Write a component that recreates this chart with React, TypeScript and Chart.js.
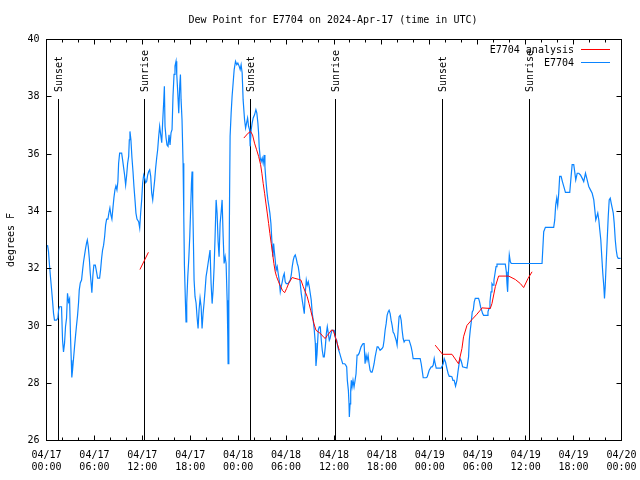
import React, { useEffect, useRef } from "react";
import { Chart, registerables } from "chart.js";

Chart.register(...registerables);

const FONT_FAMILY = "'DejaVu Sans Mono', 'Liberation Mono', monospace";
const TITLE = "Dew Point for E7704 on 2024-Apr-17 (time in UTC)";
const Y_LABEL = "degrees F";
const SERIES_NAMES = ["E7704 analysis", "E7704"];
const SERIES_COLORS = ["#ff0000", "#0a84ff"];

const X_TICK_HOURS = [0, 6, 12, 18, 24, 30, 36, 42, 48, 54, 60, 66, 72];
const X_TICK_LABELS = [
  ["04/17", "00:00"], ["04/17", "06:00"], ["04/17", "12:00"], ["04/17", "18:00"],
  ["04/18", "00:00"], ["04/18", "06:00"], ["04/18", "12:00"], ["04/18", "18:00"],
  ["04/19", "00:00"], ["04/19", "06:00"], ["04/19", "12:00"], ["04/19", "18:00"],
  ["04/20", "00:00"],
];
const Y_TICKS = [26, 28, 30, 32, 34, 36, 38, 40];
const Y_TICK_LABELS = ["26", "28", "30", "32", "34", "36", "38", "40"];

const SUN_LABELS = ["Sunset", "Sunrise", "Sunset", "Sunrise", "Sunset", "Sunrise"];
const SUN_HOURS = [1.54, 12.33, 25.5, 36.25, 49.64, 60.42];
const SUN_LINE_TOP = 37.93;

const BLUE_HOURS = [
  0.13, 0.25, 0.38, 0.5, 0.63, 0.75, 0.88, 1.0, 1.25, 1.42,
  1.51, 1.63, 1.88, 2.01, 2.13, 2.26, 2.38, 2.51, 2.63, 2.76,
  2.89, 3.01, 3.1, 3.17, 3.26, 3.39, 3.51, 3.64, 3.76, 3.89,
  4.01, 4.1, 4.23, 4.39, 4.52, 4.64, 4.77, 4.89, 5.02, 5.11,
  5.23, 5.36, 5.48, 5.61, 5.68, 5.81, 5.93, 6.11, 6.23, 6.4,
  6.65, 6.77, 6.9, 7.02, 7.15, 7.28, 7.4, 7.53, 7.69, 7.81,
  7.94, 8.07, 8.19, 8.32, 8.44, 8.57, 8.69, 8.82, 8.94, 9.03,
  9.16, 9.41, 9.53, 9.66, 9.78, 9.91, 10.04, 10.16, 10.29, 10.37,
  10.45, 10.57, 10.7, 10.83, 10.95, 11.08, 11.2, 11.33, 11.54, 11.67,
  11.79, 11.92, 12.04, 12.17, 12.29, 12.42, 12.54, 12.67, 12.79, 12.92,
  13.05, 13.17, 13.3, 13.42, 13.55, 13.67, 13.8, 13.92, 14.05, 14.17,
  14.3, 14.43, 14.55, 14.68, 14.76, 14.84, 14.97, 15.09, 15.22, 15.34,
  15.47, 15.59, 15.72, 15.84, 15.97, 16.09, 16.22, 16.31, 16.43, 16.56,
  16.68, 16.77, 16.85, 16.97, 17.1, 17.19, 17.27, 17.4, 17.47, 17.56,
  17.69, 17.81, 17.94, 18.06, 18.15, 18.23, 18.31, 18.4, 18.48, 18.6,
  18.73, 18.85, 18.98, 19.1, 19.23, 19.36, 19.48, 19.61, 19.73, 19.86,
  19.98, 20.11, 20.23, 20.36, 20.48, 20.61, 20.74, 20.86, 20.99, 21.11,
  21.24, 21.36, 21.49, 21.61, 21.74, 21.86, 21.99, 22.12, 22.24, 22.37,
  22.49, 22.62, 22.7, 22.74, 22.83, 22.92, 22.99, 23.12, 23.24, 23.37,
  23.5, 23.67, 23.83, 23.96, 24.12, 24.25, 24.37, 24.5, 24.62, 24.8,
  24.93, 25.05, 25.18, 25.3, 25.43, 25.5, 25.63, 25.75, 25.88, 26.05,
  26.22, 26.34, 26.47, 26.56, 26.63, 26.76, 26.88, 27.01, 27.13, 27.26,
  27.35, 27.47, 27.6, 27.72, 27.85, 27.97, 28.1, 28.19, 28.26, 28.35,
  28.44, 28.51, 28.64, 28.76, 28.89, 29.01, 29.14, 29.27, 29.39, 29.52,
  29.64, 29.77, 29.89, 30.02, 30.27, 30.39, 30.52, 30.65, 30.77, 30.9,
  31.02, 31.15, 31.27, 31.4, 31.52, 31.65, 31.77, 31.9, 32.02, 32.15,
  32.28, 32.4, 32.53, 32.65, 32.78, 32.9, 33.03, 33.15, 33.28, 33.4,
  33.53, 33.66, 33.74, 33.87, 34.03, 34.16, 34.28, 34.41, 34.53, 34.66,
  34.78, 34.91, 35.04, 35.16, 35.29, 35.41, 35.5, 35.63, 35.75, 36.0,
  36.09, 36.21, 36.34, 36.47, 36.59, 36.72, 36.84, 36.97, 37.09, 37.34,
  37.47, 37.59, 37.67, 37.8, 37.88, 37.92, 38.01, 38.09, 38.17, 38.26,
  38.38, 38.51, 38.64, 38.76, 38.89, 39.01, 39.14, 39.26, 39.39, 39.51,
  39.64, 39.77, 39.89, 40.02, 40.14, 40.27, 40.39, 40.52, 40.64, 40.77,
  40.89, 41.02, 41.15, 41.27, 41.4, 41.52, 41.65, 41.77, 42.02, 42.15,
  42.27, 42.4, 42.53, 42.65, 42.78, 42.9, 43.03, 43.15, 43.28, 43.4,
  43.53, 43.65, 43.78, 43.9, 44.03, 44.15, 44.28, 44.41, 44.53, 44.66,
  44.78, 44.91, 45.41, 45.54, 45.66, 45.79, 45.91, 46.79, 46.92, 47.04,
  47.17, 47.54, 47.67, 47.79, 47.92, 48.04, 48.17, 48.29, 48.42, 48.55,
  48.67, 48.8, 49.42, 49.55, 49.67, 49.8, 49.96, 50.14, 50.3, 50.43,
  50.64, 50.77, 50.89, 51.05, 51.22, 51.39, 51.52, 51.64, 51.77, 51.9,
  52.02, 52.1, 52.65, 52.85, 52.94, 53.06, 53.19, 53.31, 53.44, 53.56,
  53.69, 54.1, 54.23, 54.35, 54.48, 54.61, 54.73, 55.16, 55.28, 55.41,
  55.53, 55.66, 55.78, 55.91, 56.03, 56.16, 56.29, 56.41, 57.45, 57.58,
  57.66, 57.74, 57.83, 57.95, 58.08, 58.2, 62.05, 62.26, 62.47, 63.51,
  63.64, 63.76, 63.89, 64.01, 64.14, 64.26, 64.44, 64.6, 64.77, 64.98,
  65.52, 65.69, 65.82, 66.02, 66.14, 66.27, 66.45, 66.65, 66.86, 67.07,
  67.27, 67.49, 67.7, 67.9, 68.11, 68.33, 68.53, 68.66, 68.78, 68.91,
  69.03, 69.16, 69.28, 69.41, 69.53, 69.66, 69.79, 69.87, 69.96, 70.08,
  70.21, 70.34, 70.46, 70.59, 70.71, 70.84, 70.97, 71.09, 71.22, 71.34,
  71.47, 71.59, 71.88,
];

const BLUE_VALUES = [
  32.82, 32.6, 32.1, 31.7, 31.3, 30.9, 30.44, 30.2, 30.2, 30.27,
  30.55, 30.67, 30.67, 29.5, 29.09, 29.4, 29.97, 30.27, 31.14, 30.84,
  30.95, 29.6, 28.8, 28.2, 28.45, 28.87, 29.27, 29.67, 30.02, 30.37,
  30.8, 31.25, 31.5, 31.6, 31.95, 32.24, 32.48, 32.7, 32.9, 33.0,
  32.77, 32.36, 31.84, 31.42, 31.16, 31.77, 32.12, 32.12, 31.95, 31.67,
  31.67, 31.95, 32.36, 32.65, 32.82, 33.12, 33.52, 33.73, 33.73, 33.94,
  34.12, 33.87, 33.73, 34.12, 34.47, 34.75, 34.89, 34.75, 35.04, 35.68,
  36.03, 36.03, 35.8, 35.52, 35.27, 34.92, 35.27, 35.68, 35.92, 36.5,
  36.79, 36.5, 35.87, 35.39, 34.87, 34.4, 33.94, 33.73, 33.64, 33.42,
  33.94, 34.4, 35.0, 35.27, 35.16, 35.0, 35.04, 35.27, 35.39, 35.45,
  35.22, 34.64, 34.4, 34.75, 35.1, 35.52, 35.87, 36.15, 36.62, 36.97,
  36.67, 36.4, 37.14, 37.84, 38.37, 36.97, 36.57, 36.32, 36.27, 36.67,
  36.32, 36.74, 36.85, 38.02, 38.78, 39.07, 39.24, 38.78, 38.19, 37.43,
  38.37, 38.78, 37.9, 37.2, 35.68, 33.82, 32.12, 30.78, 30.14, 30.8,
  31.72, 32.3, 33.12, 34.17, 34.98, 35.39, 34.29, 32.88, 31.6, 31.02,
  30.8, 30.32, 29.91, 30.55, 30.97, 30.67, 29.91, 30.44, 30.8, 31.25,
  31.72, 31.95, 32.18, 32.42, 32.65, 31.48, 30.78, 31.25, 32.07, 33.12,
  34.4, 33.94, 32.94, 32.42, 33.58, 33.94, 34.4, 33.12, 32.18, 32.42,
  32.18, 30.9, 29.62, 28.68, 30.78, 34.4, 36.62, 37.43, 38.02, 38.48,
  38.95, 39.24, 39.12, 39.18, 39.07, 38.95, 39.12, 38.83, 37.9, 37.2,
  36.91, 37.08, 37.26, 36.97, 36.85, 36.27, 36.85, 37.08, 37.26, 37.37,
  37.55, 37.43, 37.08, 36.73, 36.27, 35.86, 35.74, 35.86, 35.68, 35.97,
  35.56, 35.1, 34.69, 34.4, 34.17, 33.94, 33.58, 33.12, 32.77, 32.42,
  32.88, 32.65, 32.3, 31.95, 32.07, 31.83, 31.6, 31.19, 31.37, 31.54,
  31.72, 31.83, 31.54, 31.48, 31.48, 31.54, 31.6, 31.78, 32.07, 32.3,
  32.42, 32.48, 32.36, 32.18, 32.07, 31.83, 31.48, 31.13, 30.9, 30.67,
  30.43, 31.13, 31.6, 31.42, 31.54, 31.37, 31.13, 30.9, 30.43, 30.2,
  29.85, 29.4, 28.6, 29.0, 29.85, 29.97, 29.97, 29.5, 29.15, 28.92,
  28.92, 29.27, 29.73, 29.97, 29.73, 29.5, 29.56, 29.73, 29.85, 29.85,
  29.67, 29.56, 29.5, 29.27, 29.15, 29.04, 28.92, 28.8, 28.68, 28.68,
  28.63, 28.57, 28.1, 27.75, 27.28, 26.82, 27.28, 27.75, 28.1, 27.87,
  28.1, 27.87, 28.1, 28.33, 28.98, 28.98, 29.04, 29.15, 29.27, 29.33,
  29.38, 29.38, 28.68, 28.98, 28.8, 28.98, 28.68, 28.45, 28.39, 28.39,
  28.51, 28.68, 28.92, 29.09, 29.27, 29.27, 29.21, 29.15, 29.21, 29.27,
  29.5, 29.85, 30.08, 30.37, 30.49, 30.55, 30.43, 30.2, 30.02, 29.79,
  29.73, 29.62, 29.5, 29.33, 29.85, 30.32, 30.37, 30.2, 29.85, 29.56,
  29.44, 29.5, 29.5, 29.38, 29.27, 29.09, 28.86, 28.86, 28.68, 28.45,
  28.19, 28.19, 28.22, 28.33, 28.45, 28.51, 28.57, 28.57, 28.63, 28.86,
  28.68, 28.53, 28.53, 28.6, 28.68, 28.86, 28.74, 28.51, 28.33, 28.24,
  28.24, 28.22, 28.1, 28.1, 27.9, 28.1, 28.39, 28.63, 28.86, 28.8,
  28.68, 28.57, 28.53, 28.92, 29.5, 29.85, 30.14, 30.49, 30.55, 30.84,
  30.96, 30.96, 30.84, 30.67, 30.55, 30.43, 30.37, 30.37, 30.49, 30.61,
  30.84, 31.19, 31.48, 31.42, 31.6, 31.83, 32.07, 32.16, 32.16, 31.89,
  31.48, 31.19, 31.83, 32.48, 32.24, 32.18, 32.18, 33.29, 33.44, 33.44,
  33.7, 34.22, 34.46, 34.2, 34.63, 35.22, 35.22, 35.04, 34.87, 34.66,
  34.66, 35.22, 35.63, 35.63, 35.39, 35.1, 35.33, 35.33, 35.27, 35.16,
  35.04, 35.33, 35.1, 34.87, 34.75, 34.63, 34.4, 34.05, 33.7, 33.82,
  33.94, 33.7, 33.35, 33.0, 32.42, 31.83, 31.37, 30.96, 31.37, 32.18,
  33.0, 33.82, 34.4, 34.46, 34.29, 34.11, 33.94, 33.58, 33.0, 32.65,
  32.42, 32.36, 32.36,
];

const RED_HOURS = [
  11.7, 12.23, 12.76, 12.9,
  24.71, 25.25, 25.55, 25.8, 26.05, 26.31, 26.56, 26.81, 26.97, 27.13,
  27.31, 27.47, 27.64, 27.81, 27.97, 28.14, 28.31, 28.47, 28.64, 28.81,
  29.06, 29.32, 29.57, 29.82, 30.07, 30.32, 30.57, 30.77, 31.11, 31.52,
  31.86, 32.15, 32.4, 32.65, 32.87, 33.08, 33.28, 33.49, 33.74, 34.03,
  34.33, 34.66, 34.91, 35.16, 35.41, 35.66, 35.91, 36.16, 36.41, 36.66,
  36.8,
  48.67, 49.59, 50.77, 51.59, 52.02, 52.22, 52.65, 53.27, 53.9, 54.32,
  54.53, 55.57, 55.78, 56.2, 56.61, 57.87, 58.71, 59.33, 59.75, 60.3,
  60.8,
];

const RED_VALUES = [
  31.97, 32.27, 32.57, null,
  36.56, 36.73, 36.79, 36.67, 36.38, 36.15, 35.92, 35.63, 35.33, 34.98,
  34.63, 34.29, 33.94, 33.58, 33.23, 32.88, 32.53, 32.18, 31.89, 31.72,
  31.54, 31.37, 31.23, 31.16, 31.31, 31.48, 31.6, 31.69, 31.66, 31.63,
  31.6, 31.37, 31.19, 31.02, 30.78, 30.55, 30.32, 30.08, 29.85, 29.79,
  29.73, 29.62, 29.56, 29.67, 29.75, 29.85, 29.85, 29.62, 29.38, 29.15,
  null,
  29.33, 29.01, 29.01, 28.68, 29.21, 29.62, 30.02, 30.22, 30.41, 30.55,
  30.63, 30.61, 30.78, 31.37, 31.74, 31.74, 31.62, 31.48, 31.34, 31.66,
  31.89,
];

const FONT = `10px ${FONT_FAMILY}`;

const gnuplotDecor = {
  id: "gnuplotDecor",
  beforeDatasetsDraw(chart: any) {
    const { ctx, chartArea: a, scales } = chart;
    const x = scales.x;
    const y = scales.y;
    ctx.save();
    ctx.strokeStyle = "#000";
    ctx.fillStyle = "#000";
    ctx.lineWidth = 1;
    ctx.font = FONT;
    const topY = Math.round(y.getPixelForValue(SUN_LINE_TOP));
    SUN_HOURS.forEach((h, i) => {
      const px = Math.floor(x.getPixelForValue(h)) + 0.5;
      ctx.beginPath();
      ctx.moveTo(px, a.bottom);
      ctx.lineTo(px, topY);
      ctx.stroke();
      ctx.save();
      ctx.translate(px + 1, topY - 7);
      ctx.rotate(-Math.PI / 2);
      ctx.textAlign = "left";
      ctx.textBaseline = "middle";
      ctx.fillText(SUN_LABELS[i], 0, 0);
      ctx.restore();
    });
    ctx.restore();
  },
  afterDraw(chart: any) {
    const { ctx, chartArea: a, scales } = chart;
    const x = scales.x;
    const y = scales.y;
    const L = Math.floor(a.left) + 0.5;
    const R = Math.floor(a.right) + 0.5;
    const T = Math.floor(a.top) + 0.5;
    const B = Math.floor(a.bottom) + 0.5;
    ctx.save();
    ctx.strokeStyle = "#000";
    ctx.fillStyle = "#000";
    ctx.lineWidth = 1;
    ctx.strokeRect(L, T, R - L, B - T);
    ctx.beginPath();
    for (let h = 0; h <= 72; h += 2) {
      const px = Math.floor(x.getPixelForValue(h)) + 0.5;
      const len = h % 6 === 0 ? 5 : 3;
      ctx.moveTo(px, B);
      ctx.lineTo(px, B - len);
      ctx.moveTo(px, T);
      ctx.lineTo(px, T + len);
    }
    Y_TICKS.forEach((v) => {
      const py = Math.floor(y.getPixelForValue(v)) + 0.5;
      ctx.moveTo(L, py);
      ctx.lineTo(L + 5, py);
      ctx.moveTo(R, py);
      ctx.lineTo(R - 5, py);
    });
    ctx.stroke();

    ctx.font = FONT;
    ctx.textAlign = "center";
    ctx.textBaseline = "middle";
    ctx.fillText(TITLE, (a.left + a.right) / 2 - 1, 20);
    ctx.save();
    ctx.translate(11, (a.top + a.bottom) / 2);
    ctx.rotate(-Math.PI / 2);
    ctx.fillText(Y_LABEL, 0, 0);
    ctx.restore();
    SERIES_NAMES.forEach((name, i) => {
      const ly = Math.floor(a.top) + 10 + i * 13;
      ctx.textAlign = "right";
      ctx.fillStyle = "#000";
      ctx.fillText(name, a.right - 47.5, ly + 1);
      ctx.strokeStyle = SERIES_COLORS[i];
      ctx.beginPath();
      ctx.moveTo(Math.floor(a.right) - 40, ly + 0.5);
      ctx.lineTo(Math.floor(a.right) - 11, ly + 0.5);
      ctx.stroke();
    });
    ctx.restore();
  },
};

export default function App() {
  const canvasRef = useRef<HTMLCanvasElement | null>(null);

  useEffect(() => {
    document.body.style.margin = "0";
    const canvas = canvasRef.current;
    if (!canvas) return;
    const tickFont = { family: FONT_FAMILY, size: 10, lineHeight: 1.2 };
    const chart = new Chart(canvas, {
      type: "line",
      data: {
        datasets: [
          {
            label: SERIES_NAMES[0],
            data: RED_HOURS.map((h, i) => ({ x: h, y: RED_VALUES[i] })),
            borderColor: SERIES_COLORS[0],
            backgroundColor: SERIES_COLORS[0],
            borderWidth: 1,
            pointRadius: 0,
            spanGaps: false,
            tension: 0,
            fill: false,
          },
          {
            label: SERIES_NAMES[1],
            data: BLUE_HOURS.map((h, i) => ({ x: h, y: BLUE_VALUES[i] })),
            borderColor: SERIES_COLORS[1],
            backgroundColor: SERIES_COLORS[1],
            borderWidth: 1.2,
            pointRadius: 0,
            tension: 0,
            fill: false,
          },
        ],
      } as any,
      options: {
        responsive: false,
        animation: false,
        devicePixelRatio: 1,
        layout: { padding: { top: 39.5, right: 18.5, left: 0, bottom: 0 } },
        plugins: {
          legend: { display: false },
          title: { display: false },
          tooltip: { enabled: false },
        },
        scales: {
          x: {
            type: "linear",
            min: 0,
            max: 72,
            afterBuildTicks: (s: any) => {
              s.ticks = X_TICK_HOURS.map((v) => ({ value: v }));
            },
            afterFit: (s: any) => {
              s.height = 39.5;
              s.paddingLeft = 0;
              s.paddingRight = 0;
              s.paddingTop = 0;
              s.paddingBottom = 0;
            },
            grid: { display: false, drawTicks: false },
            border: { display: false },
            ticks: {
              padding: 8.5,
              maxRotation: 0,
              autoSkip: false,
              color: "#000",
              font: tickFont,
              callback: (_v: any, i: number) => X_TICK_LABELS[i],
            },
          },
          y: {
            type: "linear",
            min: 26,
            max: 40,
            afterBuildTicks: (s: any) => {
              s.ticks = Y_TICKS.map((v) => ({ value: v }));
            },
            afterFit: (s: any) => {
              s.width = 46.5;
              s.paddingLeft = 0;
              s.paddingRight = 0;
              s.paddingTop = 0;
              s.paddingBottom = 0;
            },
            grid: { display: false, drawTicks: false },
            border: { display: false },
            ticks: {
              padding: 7,
              color: "#000",
              font: tickFont,
              callback: (_v: any, i: number) => Y_TICK_LABELS[i],
            },
          },
        },
      } as any,
      plugins: [gnuplotDecor],
    });
    return () => chart.destroy();
  }, []);

  return (
    <div style={{ width: 640, height: 480, background: "#fff" }}>
      <canvas ref={canvasRef} width={640} height={480} style={{ display: "block" }} />
    </div>
  );
}
